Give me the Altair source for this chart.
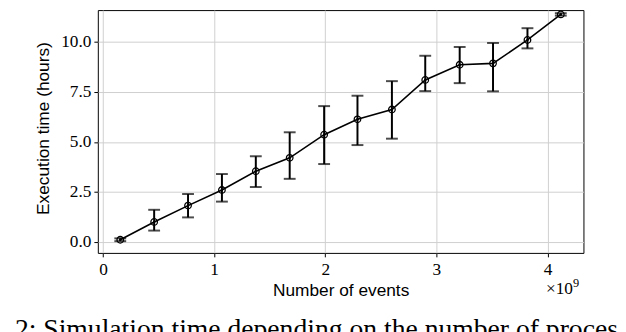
import altair as alt
import pandas as pd

# Number of events (in units of 1e9)
events = [0.155, 0.46, 0.765, 1.07, 1.375, 1.68, 1.99, 2.29, 2.60, 2.90, 3.21, 3.51, 3.82, 4.12]
# Execution time (hours): mean, lower and upper error
mean_t = [0.10, 0.99, 1.81, 2.59, 3.53, 4.20, 5.36, 6.13, 6.62, 8.10, 8.86, 8.93, 10.10, 11.38]
low_t = [0.03, 0.56, 1.22, 2.01, 2.74, 3.15, 3.89, 4.84, 5.16, 7.54, 7.94, 7.53, 9.68, 11.32]
high_t = [0.17, 1.60, 2.39, 3.39, 4.28, 5.48, 6.79, 7.31, 8.04, 9.31, 9.75, 9.95, 10.69, 11.44]

x_ticks = [0, 1, 2, 3, 4]
y_ticks = [0.0, 2.5, 5.0, 7.5, 10.0]

caption = "2: Simulation time depending on the number of processed events"

df = pd.DataFrame({"events": events, "mean": mean_t, "low": low_t, "high": high_t})

W, H = 492, 246

xscale = alt.Scale(domain=[-0.047, 4.324], nice=False, zero=False)
yscale = alt.Scale(domain=[-0.558, 11.596], nice=False, zero=False)

xenc = alt.X("events:Q", scale=xscale,
             axis=alt.Axis(values=x_ticks, format="d", title="Number of events",
                           titleY=43, titleBaseline="alphabetic", titleX=W / 2))
yenc = alt.Y("mean:Q", scale=yscale,
             axis=alt.Axis(values=y_ticks, format=".1f", title="Execution time (hours)",
                           titleX=-55, titleY=119.5, titleAngle=-90,
                           titleAlign="center", titleBaseline="middle"))

base = alt.Chart(df)

err = base.mark_rule(color="black", strokeWidth=2).encode(
    x=xenc, y=alt.Y("low:Q", scale=yscale), y2="high:Q")
cap_lo = base.mark_tick(color="black", orient="horizontal", size=12, thickness=2).encode(
    x=alt.X("events:Q", scale=xscale), y=alt.Y("low:Q", scale=yscale))
cap_hi = base.mark_tick(color="black", orient="horizontal", size=12, thickness=2).encode(
    x=alt.X("events:Q", scale=xscale), y=alt.Y("high:Q", scale=yscale))
line = base.mark_line(color="black", strokeWidth=1.6).encode(x=xenc, y=yenc)
circ = base.mark_point(shape="circle", filled=False, color="black", size=44,
                       strokeWidth=1.3, opacity=1).encode(x=xenc, y=yenc)
dot = base.mark_circle(color="black", size=6, opacity=1).encode(x=xenc, y=yenc)

times = alt.Chart(pd.DataFrame({"t": ["\u00d710"]})).mark_text(
    font="Liberation Serif", fontSize=17.5, align="left", baseline="alphabetic", color="black"
).encode(text="t:N", x=alt.value(454), y=alt.value(H + 42))
sup = alt.Chart(pd.DataFrame({"t": ["9"]})).mark_text(
    font="Liberation Serif", fontSize=12.5, align="left", baseline="alphabetic", color="black"
).encode(text="t:N", x=alt.value(481.5), y=alt.value(H + 35))
cap_text = alt.Chart(pd.DataFrame({"t": [caption]})).mark_text(
    font="Liberation Serif", fontSize=28, align="left", baseline="alphabetic", color="black"
).encode(text="t:N", x=alt.value(-84), y=alt.value(332))

chart = alt.layer(err, cap_lo, cap_hi, line, circ, dot, times, sup, cap_text).properties(
    width=W, height=H,
    autosize=alt.AutoSizeParams(type="none"),
    padding={"left": 91, "top": 0, "right": 35, "bottom": 78},
).configure_view(
    stroke="black", strokeWidth=1
).configure_axis(
    domain=False, grid=True, gridColor="#cfcfcf", gridWidth=1,
    ticks=True, tickColor="black", tickSize=4, tickWidth=1,
    labelFont="Liberation Serif", labelFontSize=17.5, labelColor="black", labelPadding=3,
    titleFont="Liberation Sans", titleFontSize=17.5, titleFontWeight="normal", titleColor="black",
).configure_axisX(labelPadding=4)

chart.save("out.html", embed_options={"renderer": "svg", "actions": False})
